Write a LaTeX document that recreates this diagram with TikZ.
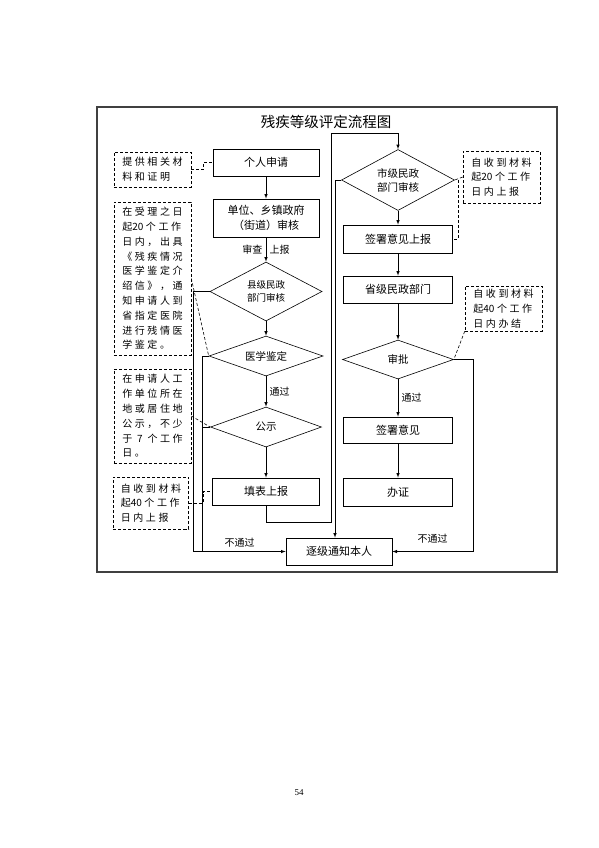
\documentclass[tikz,border=0pt]{standalone}
\usepackage{fontspec}
\usepackage{tikz}
\usetikzlibrary{shapes.geometric}
\newfontfamily\cjk{Noto Sans CJK SC}
\newfontfamily\cjkspaced[LetterSpace=26]{Noto Sans CJK SC}
\newfontfamily\pagefont{Liberation Serif}
\newcommand{\lbl}{\cjk\fontsize{10}{12}\selectfont}
\newcommand{\num}[1]{{\cjk #1}\hspace{2.6pt}}

\begin{document}
\begin{tikzpicture}[x=1pt,y=-1pt,>=latex,line width=0.6pt,
    box/.style={draw,line width=0.8pt,inner sep=0pt,minimum width=106pt,minimum height=27pt,align=center,font=\cjk\fontsize{11}{15}\selectfont},
    choice/.style={draw,diamond,inner sep=0pt,align=center,font=\cjk\fontsize{10.5}{14}\selectfont},
    memo/.style={draw,densely dashed,inner sep=0pt,minimum width=77pt,align=left,font=\cjkspaced\fontsize{10}{14.8}\selectfont}]
      \useasboundingbox (0,0) rectangle (599,848);
      \draw[line width=1.2pt,black!75] (97,107) rectangle (557,572);
      \node [font=\cjk\fontsize{14.5}{16}\selectfont] (t) at (326,122) {残疾等级评定流程图};
      \node [font=\pagefont\fontsize{9}{10}\selectfont] (p) at (299,793) {54};

      \node [box] (1) at (266,162.5) {个人申请};
      \node [box,below of=1,yshift=-27.05pt,minimum height=38pt] (2) {单位、乡镇政府\\（街道）审核};
      \node [choice,below of=2,yshift=-45.05pt,minimum width=112pt,minimum height=59pt,aspect=1.9,font=\cjk\fontsize{9.5}{13}\selectfont] (3) {县级民政\\部门审核};
      \node [choice,below of=3,yshift=-36.05pt,minimum width=114pt,minimum height=40pt,aspect=2.85] (4) {医学鉴定};
      \node [choice,below of=4,yshift=-42.55pt,minimum width=111pt,minimum height=40pt,aspect=2.8] (5) {公示};
      \node [box,below of=5,yshift=-36.05pt,minimum width=107pt] (6) {填表上报};
      \node [choice,right of=1,xshift=103.55pt,yshift=-17.5pt,minimum width=113pt,minimum height=61pt,aspect=1.85] (7) {市级民政\\部门审核};
      \node [box,below of=7,yshift=-30.55pt,minimum width=109pt,minimum height=28pt] (8) {签署意见上报};
      \node [box,below of=8,yshift=-22.05pt,minimum width=109pt] (9) {省级民政部门};
      \node [choice,below of=9,yshift=-41.55pt,minimum width=111pt,minimum height=39pt,aspect=2.85] (10) {审批};
      \node [box,below of=10,yshift=-42.05pt,minimum width=109pt,minimum height=26pt] (11) {签署意见};
      \node [box,below of=11,yshift=-33.55pt,minimum width=109pt,minimum height=28pt] (12) {办证};
      \node [box,below of=6,xshift=73pt,yshift=-31.55pt] (13) {逐级通知本人};

      \node [memo,left of=1,xshift=-85.05pt,yshift=-7pt,minimum height=35pt] (n1) {提供相关材\\料和证明};
      \node [memo,left of=3,xshift=-85.05pt,yshift=13pt,minimum height=153pt] (n2) {在受理之日\\起\num{20}个工作\\日内，出具\\《残疾情况\\医学鉴定介\\绍信》，通\\知申请人到\\省指定医院\\进行残情医\\学鉴定。};
      \node [memo,left of=5,xshift=-85.05pt,yshift=11pt,minimum height=94pt] (n3) {在申请人工\\作单位所在\\地或居住地\\公示，不少\\于 7 个工作\\日。};
      \node [memo,left of=6,xshift=-86.55pt,yshift=-11.5pt,minimum width=75pt,minimum height=52pt] (n4) {自收到材料\\起\num{40}个工作\\日内上报};
      \node [memo,right of=7,xshift=75.05pt,yshift=3pt,minimum height=52pt] (n5) {自收到材料\\起\num{20}个工作\\日内上报};
      \node [memo,right of=9,xshift=77.05pt,yshift=-19pt,minimum height=45pt] (n6) {自收到材料\\起\num{40}个工作\\日内办结};

      \draw[->] (1) -- (2);
      \draw[->] (2) -- node [left,font=\lbl] {审查} node [right,font=\lbl] {上报} (3);
      \draw[->] (3) -- (4);
      \draw[->] (4) -- node [right,font=\lbl] {通过} (5);
      \draw[->] (5) -- (6);
      \draw[->] (6.south) -- ++(0,17) -| (331,133) -| (7.north);
      \draw[->] (7.west) -| ([xshift=-4pt]13.north);
      \draw[->] (3.west) -- ++(-16,0) |- node [pos=.75,above=1pt,font=\lbl] {不通过} (13.west);
      \draw (4.west) -| ([xshift=-83pt]13.west);
      \draw (5.west) -- ++(-7.5,0);
      \draw[->] (7) -- (8);
      \draw[->] (8) -- (9);
      \draw[->] (9) -- (10);
      \draw[->] (10) -- node [right,font=\lbl] {通过} (11);
      \draw[->] (11) -- (12);
      \draw[->] (10.east) -- ++(19,0) |- node [pos=.75,above=5pt,font=\lbl] {不通过} (13.east);

      \draw[densely dashed] (n1.east) -- ++(12,0) |- (1.west);
      \draw[densely dashed] (n2.east) -- (4.west);
      \draw[densely dashed] (n3.east) -- (5.west);
      \draw[densely dashed] (n4.east) -- ++(14,0) |- (6.west);
      \draw[densely dashed] (n5.west) -- (7.east);
      \draw[densely dashed] ([xshift=3pt]7.east) |- (8.east);
      \draw[densely dashed] (n6.south west) -- (10.east);
    \end{tikzpicture}
\end{document}
